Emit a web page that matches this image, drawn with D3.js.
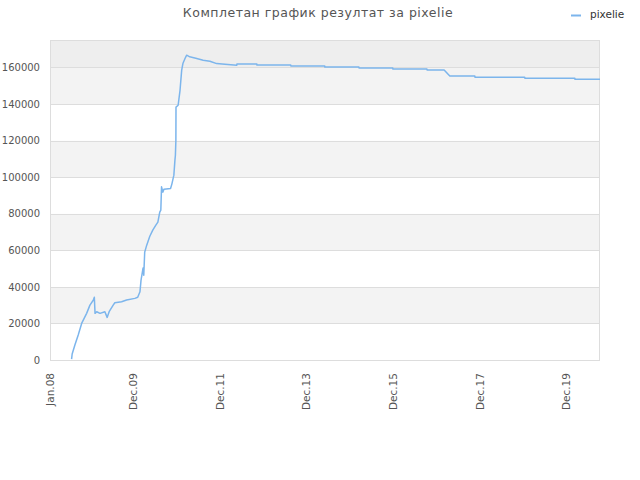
<!DOCTYPE html>
<html>
<head>
<meta charset="utf-8">
<script src="https://cdn.jsdelivr.net/npm/d3@7"></script>
<style>
  html, body { margin: 0; padding: 0; background: #fff; }
  svg { display: block; font-family: "DejaVu Sans", sans-serif; }
</style>
</head>
<body>
<svg id="chart" width="640" height="480"></svg>
<script>
const title = "Комплетан график резултат за pixelie";
const seriesName = "pixelie";
const dates = [
  "2008-07-01","2008-07-06","2008-07-29","2008-08-26","2008-09-24","2008-11-05","2008-12-03",
  "2009-01-01","2009-01-09","2009-01-15","2009-01-29","2009-02-26","2009-04-08","2009-04-27",
  "2009-05-14","2009-06-17","2009-07-01","2009-08-27","2009-10-08","2009-12-17","2010-01-10",
  "2010-01-29","2010-02-07","2010-02-24","2010-03-02","2010-03-10","2010-03-27","2010-04-22",
  "2010-05-17","2010-06-12","2010-06-29","2010-07-15","2010-07-24","2010-07-30","2010-08-10",
  "2010-08-19","2010-10-14","2010-10-25","2010-11-11","2010-11-20","2010-11-24","2010-11-28",
  "2010-11-29","2010-12-17","2011-01-02","2011-01-16","2011-01-27","2011-02-13","2011-02-27",
  "2011-03-25","2011-05-15","2011-07-16","2011-09-11","2011-11-07","2012-01-16","2012-04-25",
  "2012-04-26","2012-10-11","2012-10-12","2013-07-24","2013-07-25","2014-05-07","2014-05-08",
  "2015-02-19","2015-02-20","2015-12-02","2015-12-03","2016-09-15","2016-09-16","2017-02-07",
  "2017-03-27","2017-10-24","2017-10-25","2018-12-19","2018-12-20","2020-02-15","2020-02-16",
  "2020-09-14"
];
const values = [
  500,3300,8200,13700,20000,25500,30000,
  32800,34300,25500,26400,25500,26400,23300,
  26400,30000,31300,31900,32800,33700,34300,
  37300,43700,50300,46400,59000,62800,67700,
  71000,73800,75400,80900,82000,94700,91800,
  93400,93800,96200,101100,109300,112000,120200,
  138300,139300,147500,158500,162300,164900,166700,
  165800,165000,163900,163400,162100,161700,161200,
  161900,161900,161300,161300,160800,160800,160200,
  160200,159700,159700,159100,159100,158600,158600,
  155300,155300,154600,154600,154100,154100,153500,
  153500
];
const yTicks = [0,20000,40000,60000,80000,100000,120000,140000,160000];
const xTickDates = ["2008-01-01","2009-12-01","2011-12-01","2013-12-01","2015-12-01","2017-12-01","2019-12-01"];
const xTickLabels = ["Jan.08","Dec.09","Dec.11","Dec.13","Dec.15","Dec.17","Dec.19"];

const parse = d3.timeParse("%Y-%m-%d");
const data = dates.map((d, i) => ({ date: parse(d), value: values[i] }));

const svg = d3.select("#chart");
const mLeft = 50, mRight = 600, mTop = 40, mBottom = 360;

const x = d3.scaleTime()
  .domain([parse("2008-01-01"), parse("2020-09-14")])
  .range([mLeft, mRight]);
const y = d3.scaleLinear().domain([0, 175000]).range([mBottom, mTop]);

// bands
const bandEdges = [0,20000,40000,60000,80000,100000,120000,140000,160000,175000];
const bandFill = ["#ffffff","#f3f3f3","#ffffff","#f3f3f3","#ffffff","#f3f3f3","#ffffff","#f3f3f3","#eeeeee"];
svg.append("g").selectAll("rect")
  .data(bandFill)
  .join("rect")
  .attr("x", mLeft)
  .attr("width", mRight - mLeft)
  .attr("y", (d, i) => y(bandEdges[i + 1]))
  .attr("height", (d, i) => y(bandEdges[i]) - y(bandEdges[i + 1]))
  .attr("fill", d => d);

// gridlines
svg.append("g").selectAll("line")
  .data(yTicks.slice(1))
  .join("line")
  .attr("x1", mLeft).attr("x2", mRight)
  .attr("y1", d => Math.round(y(d)) + 0.5).attr("y2", d => Math.round(y(d)) + 0.5)
  .attr("stroke", "#dddddd");

// plot border
svg.append("rect")
  .attr("x", mLeft + 0.5).attr("y", mTop + 0.5)
  .attr("width", mRight - mLeft - 1).attr("height", mBottom - mTop)
  .attr("fill", "none").attr("stroke", "#dddddd");

// y axis
const yAxis = d3.axisLeft(y).tickValues(yTicks).tickSize(0).tickPadding(10).tickFormat(d3.format("d"));
const gy = svg.append("g").attr("transform", `translate(${mLeft},0)`).call(yAxis);
gy.select(".domain").remove();
gy.selectAll("text").attr("fill", "#555").style("font-size", "10px").style("font-family", "DejaVu Sans");

// x axis
const xAxis = d3.axisBottom(x).tickValues(xTickDates.map(parse)).tickSize(0)
  .tickFormat((d, i) => xTickLabels[i]);
const gx = svg.append("g").attr("transform", `translate(0,${mBottom})`).call(xAxis);
gx.select(".domain").remove();
gx.selectAll("text")
  .attr("fill", "#555")
  .style("font-size", "10.5px")
  .style("font-family", "DejaVu Sans")
  .attr("text-anchor", "end")
  .attr("dy", "0.35em")
  .attr("transform", "translate(0,13) rotate(-90)")
  .attr("x", 0).attr("y", 0);

// line
const line = d3.line().x(d => x(d.date)).y(d => y(d.value));
svg.append("path")
  .datum(data)
  .attr("d", line)
  .attr("fill", "none")
  .attr("stroke", "#7cb5ec")
  .attr("stroke-width", 1.5)
  .attr("stroke-linejoin", "round");

// title
svg.append("text")
  .attr("x", 318).attr("y", 17)
  .attr("text-anchor", "middle")
  .attr("fill", "#555")
  .style("font-size", "12.5px")
  .style("letter-spacing", "0.5px")
  .text(title);

// legend
svg.append("line")
  .attr("x1", 571).attr("x2", 581).attr("y1", 15.5).attr("y2", 15.5)
  .attr("stroke", "#7cb5ec").attr("stroke-width", 2);
svg.append("text")
  .attr("x", 590).attr("y", 18)
  .attr("fill", "#333")
  .style("font-size", "10.5px")
  .text(seriesName);
</script>
</body>
</html>
